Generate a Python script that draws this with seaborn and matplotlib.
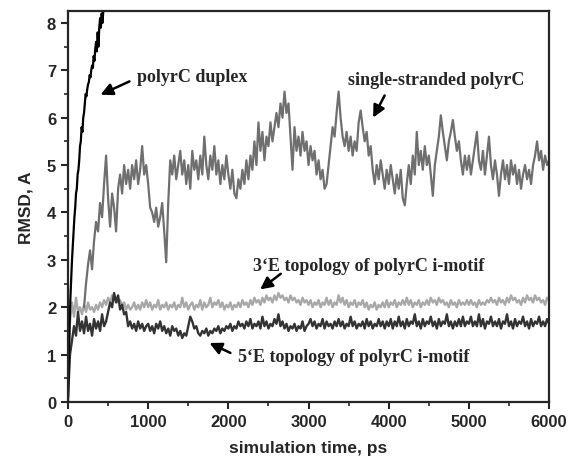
import numpy as np
import pandas as pd
import seaborn as sns
import matplotlib.pyplot as plt

# time grids (ps)
duplex_t = np.arange(0, 441, 10)
ss_t = np.arange(200, 6001, 25)
imotif_t = np.arange(0, 6001, 25)

# polyrC duplex RMSD (A)
duplex = [0.0, 0.8, 1.6, 2.2, 2.6, 3.0, 3.3, 3.6, 3.9, 4.1, 4.4, 4.5, 4.8, 4.9, 5.1,
          5.4, 5.5, 5.8, 5.7, 6.0, 6.1, 6.3, 6.5, 6.45, 6.6, 6.7, 6.75, 6.9, 6.85, 7.0,
          7.1, 7.05, 7.3, 7.2, 7.45, 7.6, 7.4, 7.8, 7.5, 7.9, 8.1, 7.9, 8.2, 8.0, 8.25]

# single-stranded polyrC RMSD (A)
single = [
    2.0, 2.5, 2.9, 3.2, 2.8, 3.4, 3.8, 3.6, 4.2, 3.9, 4.6, 5.2, 4.3, 3.7, 4.4, 4.1,
    3.6, 4.5, 4.8, 4.4, 5.0, 4.6, 4.9, 4.5, 5.0, 4.7, 5.1, 4.6, 4.9, 5.4, 4.8, 5.0,
    4.6, 4.1, 4.0, 3.8, 4.1, 3.7, 3.9, 4.2, 3.6, 2.95, 4.2, 5.1, 4.8, 5.2, 4.7, 5.0,
    5.3, 4.8, 5.1, 4.6, 5.0, 4.5, 5.3, 4.9, 5.1, 4.7, 5.2, 4.8, 5.6, 5.0, 4.7, 5.2,
    4.9, 5.4, 4.8, 5.1, 4.6, 5.0, 4.7, 5.2,
    4.8, 4.5, 4.9, 4.4, 4.3, 4.7, 4.5, 4.9, 4.6, 5.1, 4.7, 5.2, 4.9, 5.5, 5.0, 5.9,
    5.3, 5.7, 5.1, 5.6, 5.4, 5.9, 5.5, 5.8, 6.1, 5.8, 6.3, 6.0, 6.55, 6.1, 6.3, 5.6,
    4.9, 5.8, 5.3, 5.6, 5.2, 5.7, 5.3, 5.5,
    5.0, 5.4, 5.1, 5.3, 4.8, 5.1, 4.7, 4.9, 4.5, 4.6, 5.0, 5.4, 5.8, 5.6, 6.1, 6.55,
    6.0, 5.6, 5.4, 5.7, 5.3, 5.6, 5.2, 5.5, 5.3, 5.9, 6.15, 5.8, 5.5, 5.7, 5.2, 5.4,
    4.9, 4.6, 5.0, 4.7, 5.1, 4.8, 4.5, 4.9,
    4.6, 5.0, 4.7, 4.4, 4.8, 4.5, 4.9, 4.3, 4.15, 4.6, 5.0, 4.6, 5.2, 4.8, 5.7, 5.0,
    5.3, 4.9, 5.4, 5.0, 5.2, 4.8, 4.35, 5.0, 5.3, 5.6, 6.05, 5.7, 5.4, 5.1, 5.5, 5.7,
    5.95, 5.6, 5.3, 5.5, 5.1, 4.8, 5.2, 4.9,
    5.2, 4.8, 5.1, 5.4, 5.7, 5.1, 4.9, 5.3, 4.8, 5.2, 5.6, 5.0, 4.7, 5.1, 4.8, 4.35,
    4.8, 5.1, 4.7, 5.0, 4.6, 5.1, 4.8, 5.0, 4.6, 4.9, 4.5, 4.8, 5.0, 4.7, 4.9, 4.6,
    5.0, 5.2, 5.5, 5.1, 5.3, 4.9, 5.2, 5.0, 5.1]

# 3'E topology of polyrC i-motif RMSD (A)
e3 = [
    0.8, 1.7, 2.1, 1.8, 2.2, 1.9, 2.0, 1.85, 2.05, 1.9, 2.1, 1.95, 2.0, 1.9, 2.05, 1.95,
    2.1, 2.0, 2.15, 2.05, 2.2, 2.1, 2.25, 2.15, 2.2, 2.1, 2.15, 2.05, 2.1, 1.95, 2.05, 1.95,
    2.0, 2.1, 1.95, 2.05, 1.95, 2.1, 2.0, 2.15,
    2.0, 2.1, 1.95, 2.05, 2.0, 2.15, 1.95, 2.05, 2.0, 2.1, 1.95, 2.05, 2.0, 2.1, 1.95, 2.05,
    2.0, 2.2, 2.0, 2.1, 1.95, 2.05, 2.1, 1.95, 2.05, 2.0, 2.15, 1.95, 2.1, 2.0, 2.05, 2.2,
    2.0, 2.1, 2.05, 2.15, 2.0, 2.1, 1.95, 2.05,
    2.0, 2.1, 1.95, 2.05, 2.0, 2.1, 2.0, 2.15, 2.05, 2.1, 2.0, 2.15, 2.05, 2.2, 2.1, 2.15,
    2.05, 2.2, 2.1, 2.25, 2.15, 2.2, 2.1, 2.25, 2.15, 2.3, 2.2, 2.25, 2.15, 2.2, 2.1, 2.25,
    2.15, 2.2, 2.1, 2.15, 2.05, 2.2, 2.1, 2.15,
    2.05, 2.15, 2.0, 2.1, 2.05, 2.15, 2.0, 2.1, 2.05, 2.2, 2.05, 2.15, 2.0, 2.1, 2.05, 2.25,
    2.1, 2.2, 2.05, 2.15, 2.0, 2.1, 2.05, 2.15, 2.0, 2.1, 2.05, 2.15, 2.0, 2.1, 1.95, 2.05,
    2.0, 2.1, 1.95, 2.05, 2.0, 2.1, 2.0, 2.15,
    2.0, 2.1, 2.05, 2.15, 2.0, 2.1, 2.05, 2.15, 2.05, 2.2, 2.05, 2.15, 2.0, 2.1, 2.05, 2.15,
    2.0, 2.1, 2.05, 2.15, 2.05, 2.2, 2.1, 2.15, 2.05, 2.2, 2.1, 2.15, 2.05, 2.1, 2.0, 2.15,
    2.05, 2.1, 2.0, 2.15, 2.05, 2.1, 2.05, 2.15,
    2.05, 2.15, 2.05, 2.1, 2.0, 2.15, 2.05, 2.1, 2.05, 2.15, 2.1, 2.2, 2.1, 2.15, 2.05, 2.2,
    2.1, 2.15, 2.05, 2.2, 2.1, 2.25, 2.15, 2.2, 2.1, 2.15, 2.05, 2.2, 2.1, 2.25, 2.15, 2.2,
    2.1, 2.25, 2.15, 2.2, 2.1, 2.15, 2.05, 2.2, 2.15]

# 5'E topology of polyrC i-motif RMSD (A)
e5 = [
    0.1, 1.0, 1.3, 1.6, 1.4, 1.9, 1.5, 1.7, 1.45, 1.8, 1.5, 1.65, 1.4, 1.75, 1.55, 1.7,
    1.5, 1.85, 1.6, 1.7, 1.9, 2.1, 2.0, 2.3, 2.1, 2.25, 1.95, 2.05, 1.85, 1.9, 1.6, 1.7,
    1.55, 1.65, 1.5, 1.7, 1.55, 1.65, 1.5, 1.6,
    1.65, 1.5, 1.6, 1.45, 1.65, 1.55, 1.7, 1.5, 1.6, 1.45, 1.55, 1.4, 1.6, 1.5, 1.55, 1.4,
    1.5, 1.35, 1.45, 1.4, 1.6, 1.8, 1.7, 1.55, 1.6, 1.45, 1.4, 1.5, 1.45, 1.55, 1.4, 1.5,
    1.45, 1.55, 1.5, 1.6, 1.45, 1.55, 1.5, 1.6,
    1.55, 1.65, 1.5, 1.6, 1.55, 1.7, 1.6, 1.65, 1.55, 1.7, 1.6, 1.75, 1.55, 1.65, 1.6, 1.7,
    1.55, 1.8, 1.6, 1.7, 1.55, 1.65, 1.6, 1.75, 1.65, 1.85, 1.6, 1.7, 1.55, 1.65, 1.5, 1.6,
    1.55, 1.65, 1.5, 1.6, 1.55, 1.7, 1.5, 1.6,
    1.65, 1.75, 1.6, 1.7, 1.55, 1.65, 1.6, 1.75, 1.55, 1.7, 1.6, 1.65, 1.55, 1.7, 1.6, 1.75,
    1.6, 1.7, 1.55, 1.65, 1.6, 1.8, 1.6, 1.7, 1.55, 1.65, 1.6, 1.7, 1.55, 1.75, 1.6, 1.7,
    1.55, 1.65, 1.6, 1.75, 1.6, 1.7, 1.55, 1.7,
    1.6, 1.75, 1.55, 1.7, 1.6, 1.8, 1.6, 1.7, 1.55, 1.75, 1.6, 1.7, 1.65, 1.85, 1.6, 1.7,
    1.55, 1.75, 1.6, 1.7, 1.65, 1.8, 1.6, 1.7, 1.55, 1.75, 1.6, 1.7, 1.65, 1.85, 1.6, 1.7,
    1.55, 1.7, 1.6, 1.75, 1.6, 1.8, 1.6, 1.7,
    1.65, 1.8, 1.6, 1.7, 1.6, 1.85, 1.6, 1.75, 1.55, 1.7, 1.65, 1.8, 1.6, 1.7, 1.6, 1.75,
    1.55, 1.7, 1.65, 1.85, 1.6, 1.7, 1.55, 1.75, 1.6, 1.7, 1.65, 1.8, 1.6, 1.7, 1.55, 1.75,
    1.6, 1.7, 1.65, 1.8, 1.6, 1.7, 1.6, 1.75, 1.65]

df_duplex = pd.DataFrame({"time": duplex_t, "rmsd": duplex})
df_single = pd.DataFrame({"time": ss_t, "rmsd": single})
df_e3 = pd.DataFrame({"time": imotif_t, "rmsd": e3})
df_e5 = pd.DataFrame({"time": imotif_t, "rmsd": e5})

sns.set_style("ticks")
plt.rcParams["font.family"] = ["Liberation Sans", "DejaVu Sans"]

fig = plt.figure(figsize=(5.69, 4.64), dpi=100)
ax = fig.add_axes([0.1195, 0.1315, 0.8455, 0.8425])

sns.lineplot(data=df_e3, x="time", y="rmsd", color="#a8a8a8", lw=1.7, ax=ax)
sns.lineplot(data=df_single, x="time", y="rmsd", color="#6f6f6f", lw=1.6, ax=ax)
sns.lineplot(data=df_e5, x="time", y="rmsd", color="#333333", lw=1.7, ax=ax)
sns.lineplot(data=df_duplex, x="time", y="rmsd", color="black", lw=1.6, ax=ax)

ax.set_xlim(0, 6000)
ax.set_ylim(0, 8.25)
ax.set_xticks(range(0, 6001, 1000))
ax.set_xticks(range(500, 6000, 1000), minor=True)
ax.set_yticks(range(0, 9))
ax.set_yticks(np.arange(0.5, 8.1, 1), minor=True)
ax.tick_params(which="major", direction="out", length=5, width=1.5, labelsize=12)
ax.tick_params(which="minor", direction="out", length=3, width=1.2)
for lab in ax.get_xticklabels() + ax.get_yticklabels():
    lab.set_fontweight("bold")
for s in ax.spines.values():
    s.set_linewidth(1.6)
    s.set_visible(True)

ax.set_xlabel("simulation time, ps", fontsize=12.5, fontweight="bold", labelpad=8)
ax.set_ylabel("RMSD, A", fontsize=12.5, fontweight="bold", labelpad=10)

serif = dict(family=["Liberation Serif", "DejaVu Serif"], fontsize=13,
             fontweight="bold", va="center", ha="left")
arrow = dict(arrowstyle="-|>", color="black", lw=1.8, mutation_scale=18)

ax.text(860, 6.86, "polyrC duplex", **serif)
ax.annotate("", xy=(374, 6.46), xytext=(798, 6.79), arrowprops=arrow)
ax.text(3491, 6.81, "single-stranded polyrC", **serif)
ax.annotate("", xy=(3790, 5.95), xytext=(3965, 6.52), arrowprops=arrow)
ax.text(2307, 2.87, "3\u2018E topology of polyrC i-motif", **serif)
ax.annotate("", xy=(2369, 2.34), xytext=(2681, 2.74), arrowprops=arrow)
ax.text(2120, 0.97, "5\u2018E topology of polyrC i-motif", **serif)
ax.annotate("", xy=(1733, 1.27), xytext=(2057, 1.01), arrowprops=arrow)

fig.savefig("out.png", dpi=100)
